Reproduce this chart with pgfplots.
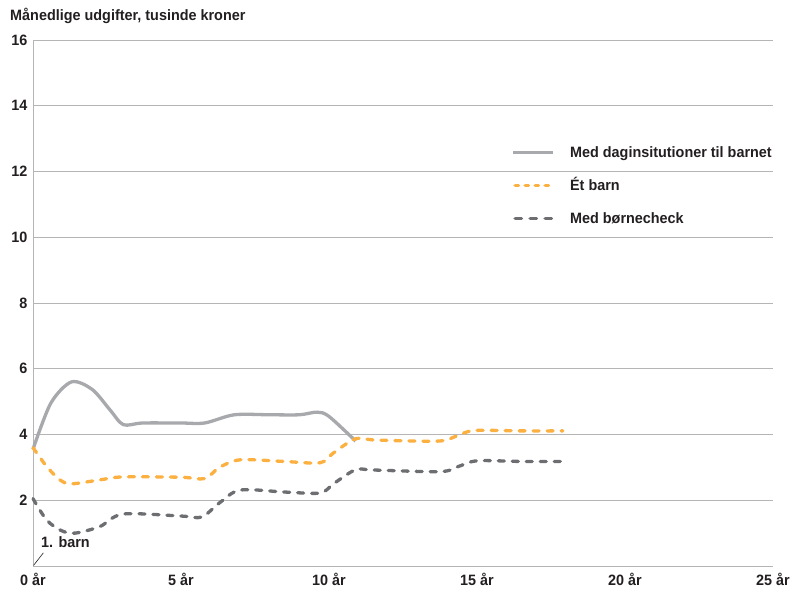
\documentclass[border=0pt]{standalone}
\usepackage{fontspec}
\setmainfont{Liberation Sans}[FakeStretch=0.96]
\usepackage{pgfplots}
\pgfplotsset{compat=1.18}
\definecolor{solidgray}{HTML}{A7A9AC}
\definecolor{orng}{HTML}{FBB040}
\definecolor{dgray}{HTML}{6D6E71}
\definecolor{gridc}{HTML}{B5B5B5}
\definecolor{txt}{HTML}{231F20}
\begin{document}
\begin{tikzpicture}[font=\bfseries\fontsize{15}{18}\selectfont]
\begin{axis}[
  scale only axis, width=740pt, height=526pt,
  xmin=0, xmax=25, ymin=0, ymax=16,
  axis x line*=bottom, axis y line*=left,
  axis line style={gridc, line width=1pt, -},
  ymajorgrids, grid style={gridc, line width=0.9pt},
  ytick={2,4,...,16}, xtick={0,5,...,25},
  xticklabels={0 år,5 år,10 år,15 år,20 år,25 år},
  major tick length=0pt,
  tick label style={font=\bfseries\fontsize{15}{18}\selectfont, text=txt},
  /pgf/number format/assume math mode=true,
  xticklabel style={yshift=-4pt},
  yticklabel style={xshift=-2pt},
  clip=false,
  legend style={at={(axis cs:16.17,12.78)}, anchor=north west, draw=none, fill=none,
    inner sep=0pt, row sep=19pt, column sep=15pt,
    nodes={inner sep=0pt, text depth=3pt, text height=11pt, anchor=base west, text=txt,
      font=\bfseries\fontsize{15}{18}\selectfont}},
  legend cell align=left,
  legend image code/.code={\draw[#1] (0pt,4.5pt) -- (40pt,4.5pt);},
]
\addlegendimage{solidgray, line width=3.3pt}
\addlegendentry{Med daginsitutioner til barnet}
\addlegendimage{orng, line width=3.3pt, line cap=round, dash pattern=on 3.5pt off 6.5pt, dash phase=-1.6pt}
\addlegendentry{Ét barn}
\addlegendimage{dgray, line width=3.3pt, line cap=round, dash pattern=on 6.5pt off 8.5pt, dash phase=-1.6pt}
\addlegendentry{Med børnecheck}

\addplot[forget plot, solidgray, line width=3.3pt, smooth, tension=0.5] coordinates {
(0,3.55) (0.6,4.95) (1.3,5.6) (2.0,5.37) (2.6,4.75) (3.05,4.3) (3.7,4.35)
(5.0,4.35) (5.8,4.35) (6.8,4.6) (8.0,4.6) (9.0,4.6) (9.6,4.68) (10.0,4.55) (10.9,3.8)};

\addplot[forget plot, orng, line width=3.3pt, line cap=round, dash pattern=on 6pt off 8pt, smooth, tension=0.5] coordinates {
(0,3.6) (0.46,3.03) (0.91,2.62) (1.3,2.5) (2.26,2.62) (3.04,2.71) (5.0,2.7) (5.8,2.66)
(6.3,3.0) (7.0,3.23) (8.5,3.18) (9.7,3.14) (10.15,3.44) (10.9,3.87) (11.6,3.83)
(13.7,3.8) (14.3,3.95) (14.9,4.12) (16.5,4.11) (17.9,4.11)};

\addplot[forget plot, dgray, line width=3.3pt, line cap=round, dash pattern=on 6pt off 8pt, smooth, tension=0.5] coordinates {
(0,2.05) (0.46,1.4) (0.95,1.08) (1.42,1.0) (2.26,1.2) (3.04,1.58) (5.0,1.52) (5.7,1.49)
(6.3,1.92) (7.0,2.31) (8.5,2.25) (9.7,2.22) (10.15,2.5) (10.9,2.93) (11.5,2.92)
(13.75,2.87) (14.35,3.02) (15.0,3.2) (16.5,3.18) (17.9,3.18)};

\draw[txt, line width=0.6pt] (axis cs:0.02,0.02) -- (axis cs:0.35,0.4);
\node[anchor=west, inner sep=0pt, text=txt] at (axis cs:0.27,0.73) {1. barn};
\end{axis}
\node[anchor=west, inner sep=0pt, text=txt] at (-23pt,550pt) {Månedlige udgifter, tusinde kroner};
\pgfresetboundingbox
\useasboundingbox (-33pt,-29pt) rectangle (765pt,566pt);
\end{tikzpicture}
\end{document}
